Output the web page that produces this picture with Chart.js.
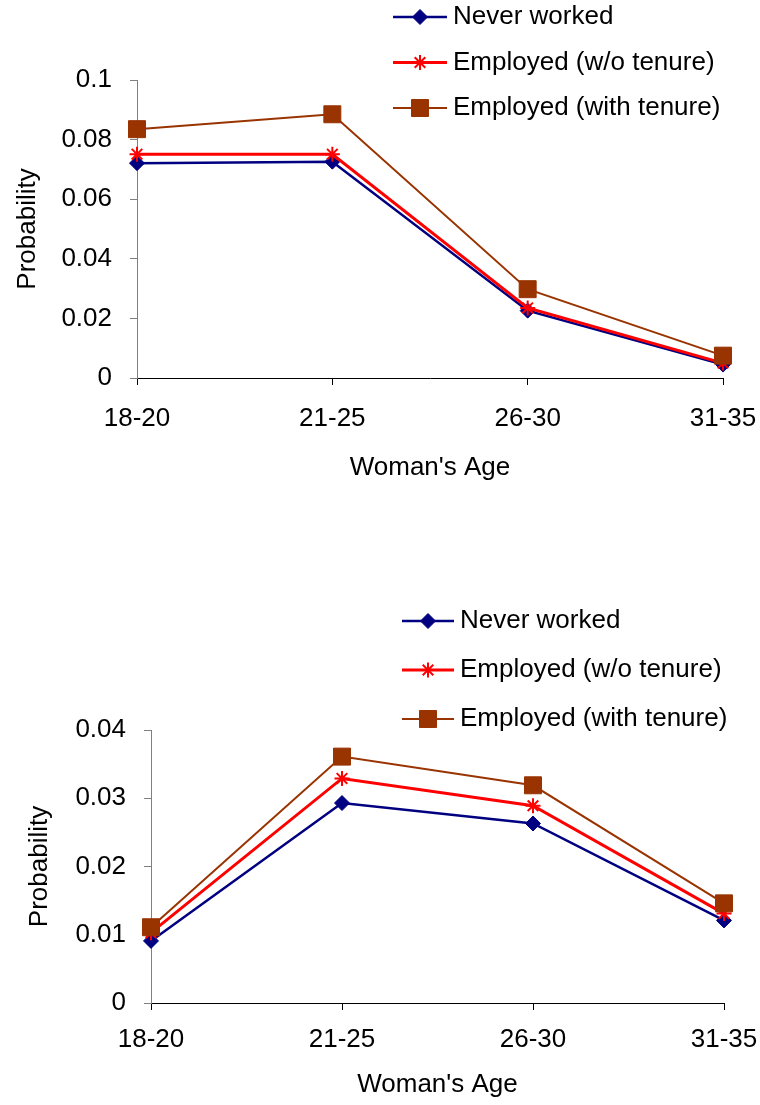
<!DOCTYPE html>
<html>
<head>
<meta charset="utf-8">
<script src="https://cdn.jsdelivr.net/npm/chart.js@4.4.1/dist/chart.umd.min.js"></script>
<style>
  html, body { margin: 0; padding: 0; background: #fff; }
  body { width: 760px; height: 1105px; position: relative; overflow: hidden; }
  canvas { position: absolute; left: 0; }
  #topChart { top: 0; }
  #bottomChart { top: 490px; }
</style>
</head>
<body>
<canvas id="topChart" width="760" height="483"></canvas>
<canvas id="bottomChart" width="760" height="615"></canvas>
<script>
// data
const ageGroups = ['18-20', '21-25', '26-30', '31-35'];
const seriesNames = ['Never worked', 'Employed (w/o tenure)', 'Employed (with tenure)'];

const topNeverWorked = [0.0721, 0.0726, 0.0226, 0.0045];
const topNoTenure = [0.0751, 0.0751, 0.0235, 0.0050];
const topWithTenure = [0.0835, 0.0885, 0.0298, 0.0075];
const topTickLabels = ['0', '0.02', '0.04', '0.06', '0.08', '0.1'];

const bottomNeverWorked = [0.0091, 0.0293, 0.0263, 0.0121];
const bottomNoTenure = [0.0103, 0.0329, 0.0289, 0.0131];
const bottomWithTenure = [0.0111, 0.0361, 0.0319, 0.0146];
const bottomTickLabels = ['0', '0.01', '0.02', '0.03', '0.04'];

const FONT = { family: '"Liberation Sans", Arial, sans-serif', size: 26 };

Chart.defaults.font = { ...FONT };
Chart.defaults.color = '#000';

const styles = [
  { color: '#000080', pointStyle: 'rectRot', radius: 7.5, lineWidth: 2.5, pointBorder: 1, order: 3 },
  { color: '#FF0000', pointStyle: 'star', radius: 7.5, lineWidth: 3, pointBorder: 2, order: 2 },
  { color: '#993300', pointStyle: 'rect', radius: 12, lineWidth: 2, pointBorder: 1, order: 1 },
];

function makeDatasets(values) {
  return values.map((v, i) => ({
    label: seriesNames[i],
    data: v,
    borderColor: styles[i].color,
    backgroundColor: styles[i].color,
    borderWidth: styles[i].lineWidth,
    pointStyle: styles[i].pointStyle,
    pointRadius: styles[i].radius,
    pointBorderWidth: styles[i].pointBorder,
    tension: 0,
    order: styles[i].order,
  }));
}

// legend drawn beside the plot, like the original layout
const sideLegend = {
  id: 'sideLegend',
  afterDraw(chart, args, opts) {
    const ctx = chart.ctx;
    ctx.save();
    chart.data.datasets.forEach((ds, i) => {
      const y = opts.top + i * opts.gap;
      const s = styles[i];
      ctx.strokeStyle = s.color;
      ctx.lineWidth = s.lineWidth;
      ctx.beginPath();
      ctx.moveTo(opts.x1, y);
      ctx.lineTo(opts.x2, y);
      ctx.stroke();
      ctx.fillStyle = s.color;
      ctx.lineWidth = s.pointBorder;
      Chart.helpers.drawPoint(ctx, { pointStyle: s.pointStyle, radius: s.radius, rotation: 0, borderWidth: s.pointBorder },
        (opts.x1 + opts.x2) / 2, y);
      ctx.fillStyle = '#000';
      ctx.font = FONT.size + 'px ' + FONT.family;
      ctx.textBaseline = 'middle';
      ctx.textAlign = 'left';
      ctx.fillText(ds.label, opts.textX, y);
    });
    ctx.restore();
  }
};

function makeChart(id, values, yMax, yStep, tickLabels, layout) {
  return new Chart(document.getElementById(id), {
    type: 'line',
    data: { labels: ageGroups, datasets: makeDatasets(values) },
    plugins: [sideLegend],
    options: {
      responsive: false,
      animation: false,
      events: [],
      layout: { padding: layout.padding },
      plugins: {
        legend: { display: false },
        tooltip: { enabled: false },
        sideLegend: layout.legend,
      },
      scales: {
        x: {
          offset: false,
          grid: { drawOnChartArea: false, color: '#000', tickLength: 7, offset: false },
          border: { color: '#000', width: 1 },
          ticks: { padding: layout.xTickPad, maxRotation: 0, autoSkip: false },
          title: { display: true, text: "Woman's Age", padding: 0 },
          afterFit: s => {
            s.height = layout.xHeight;
            // label overhang is covered by layout padding
            s.paddingLeft = 0;
            s.paddingRight = 0;
          },
        },
        y: {
          min: 0,
          max: yMax,
          grid: { drawOnChartArea: false, color: '#808080', tickLength: 7 },
          border: { color: '#808080', width: 1 },
          ticks: { stepSize: yStep, padding: 18, callback: (v, i) => tickLabels[i] },
          title: { display: true, text: 'Probability', padding: 0 },
          afterFit: s => { s.width = layout.yWidth; },
        },
      },
    },
  });
}

makeChart('topChart', [topNeverWorked, topNoTenure, topWithTenure], 0.1, 0.02, topTickLabels, {
  padding: { top: 80, left: 12, right: 37, bottom: 0 },
  yWidth: 125,
  xHeight: 105,
  xTickPad: 18,
  legend: { x1: 393, x2: 447, textX: 453, top: 17, gap: 45.5 },
});

makeChart('bottomChart', [bottomNeverWorked, bottomNoTenure, bottomWithTenure], 0.04, 0.01, bottomTickLabels, {
  padding: { top: 240, left: 24, right: 36, bottom: 5 },
  yWidth: 127,
  xHeight: 97,
  xTickPad: 14,
  legend: { x1: 402, x2: 454, textX: 460, top: 131, gap: 49 },
});
</script>
</body>
</html>
